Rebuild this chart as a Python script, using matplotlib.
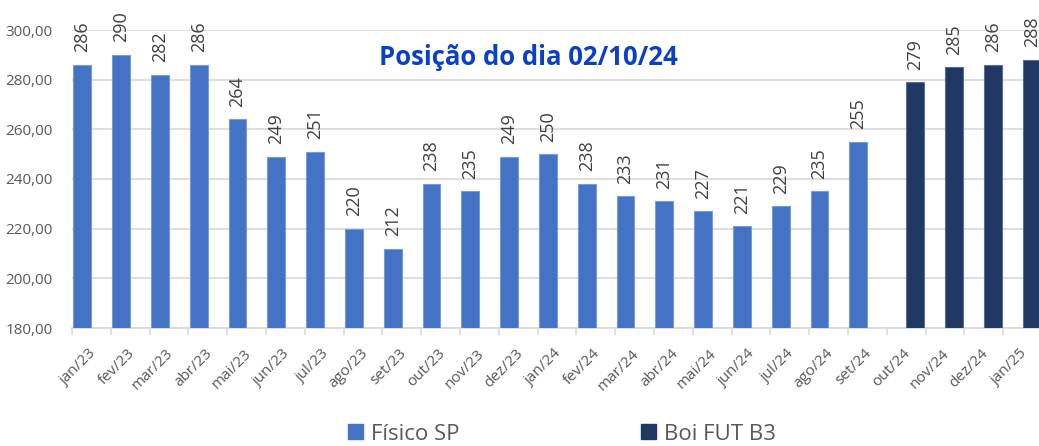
import numpy as np
import matplotlib
matplotlib.use("Agg")
import matplotlib.pyplot as plt
import matplotlib.transforms as mtransforms

plt.rcParams['font.family'] = ['Open Sans', 'DejaVu Sans']

months = ["jan/23", "fev/23", "mar/23", "abr/23", "mai/23", "jun/23", "jul/23",
          "ago/23", "set/23", "out/23", "nov/23", "dez/23", "jan/24", "fev/24",
          "mar/24", "abr/24", "mai/24", "jun/24", "jul/24", "ago/24", "set/24",
          "out/24", "nov/24", "dez/24", "jan/25"]
fisico_sp = [286, 290, 282, 286, 264, 249, 251, 220, 212, 238, 235, 249, 250,
             238, 233, 231, 227, 221, 229, 235, 255,
             None, None, None, None]
boi_fut_b3 = [None] * 21 + [279, 285, 286, 288]

title = "Posição do dia 02/10/24"

C_FIS = "#4472C4"
C_FUT = "#203864"
TXT = "#595959"
GRID = "#D9D9D9"

fig = plt.figure(figsize=(10.39, 4.46), dpi=100)
ax = fig.add_axes([72 / 1039, 118 / 446, 970 / 1039, 298 / 446])

x = np.arange(len(months))
w = 0.46
off = 0.235

def draw(series, dx, color, edge):
    xs = [xi + dx for xi, v in zip(x, series) if v is not None]
    vs = [v for v in series if v is not None]
    bars = ax.bar(xs, [v - 180 for v in vs], bottom=180, width=w, color=color,
                  edgecolor=edge, linewidth=0.8, zorder=3)
    for b, v in zip(bars, vs):
        ax.annotate(f"{v:d}", (b.get_x() + b.get_width() / 2, v),
                    xytext=(0, 9), textcoords="offset points",
                    rotation=90, ha="center", va="bottom",
                    fontsize=13, color="#404040", annotation_clip=False)

draw(fisico_sp, -off, C_FIS, "#7A9BD8")
draw(boi_fut_b3, off, C_FUT, "#5A6E95")

ax.set_xlim(-0.5, len(months) - 0.5)
ax.set_ylim(180, 300)
ax.set_yticks(np.arange(180, 301, 20))
ax.set_yticklabels([f"{v:.2f}".replace(".", ",") for v in range(180, 301, 20)],
                   fontsize=11, color=TXT)
ax.tick_params(axis="y", length=0, pad=14)
ax.yaxis.grid(True, color=GRID, linewidth=1.2, zorder=0)
ax.set_axisbelow(True)

# category boundaries carry the tick marks, centres carry the labels
ax.set_xticks(np.arange(-0.5, len(months), 1.0))
ax.set_xticklabels([])
ax.tick_params(axis="x", which="major", length=5, color=GRID, width=1.2)
ax.set_xticks(x, minor=True)
ax.set_xticklabels(months, minor=True, rotation=45, ha="right",
                   rotation_mode="anchor", fontsize=11, color=TXT)
ax.tick_params(axis="x", which="minor", length=0, pad=13)
shift = mtransforms.ScaledTranslation(-3 / 100, 0, fig.dpi_scale_trans)
for lab in ax.xaxis.get_minorticklabels():
    lab.set_transform(lab.get_transform() + shift)

for s in ["left", "right", "top"]:
    ax.spines[s].set_visible(False)
ax.spines["bottom"].set_color(GRID)
ax.spines["bottom"].set_linewidth(1.2)

fig.text(528 / 1039, 1 - 58 / 446, title, ha="center", va="center",
         fontsize=18.5, fontweight="bold", color="#0A3FC8")

handles = [plt.Rectangle((0, 0), 1, 1, color=C_FIS),
           plt.Rectangle((0, 0), 1, 1, color=C_FUT)]
fig.legend(handles, ["Físico SP", "Boi FUT B3"], loc="center",
           bbox_to_anchor=(562 / 1039, 1 - 434 / 446), ncol=2, frameon=False,
           fontsize=16, labelcolor=TXT, handlelength=0.65, handleheight=0.65,
           handletextpad=0.35, columnspacing=8.2)

fig.savefig("out.png", dpi=100)
